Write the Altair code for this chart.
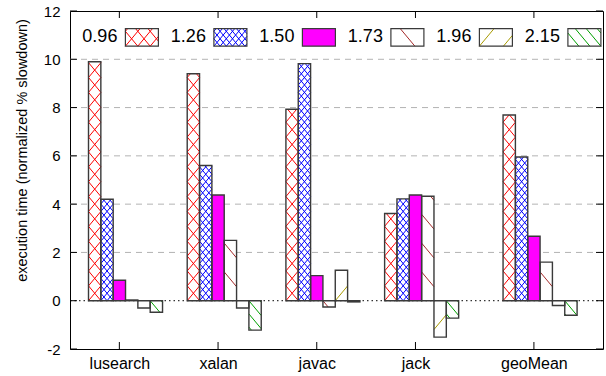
import altair as alt
import pandas as pd

# ---- data -------------------------------------------------------------
benchmarks = ["lusearch", "xalan", "javac", "jack", "geoMean"]
positions = [0, 1, 2, 3, 4.2]
series = ["0.96", "1.26", "1.50", "1.73", "1.96", "2.15"]

val_096 = [9.90, 9.40, 7.93, 3.61, 7.69]
val_126 = [4.20, 5.60, 9.82, 4.22, 5.95]
val_150 = [0.85, 4.38, 1.04, 4.38, 2.67]
val_173 = [0.03, 2.50, -0.26, 4.33, 1.60]
val_196 = [-0.30, -0.30, 1.26, -1.51, -0.20]
val_215 = [-0.48, -1.22, -0.05, -0.72, -0.60]
values = [val_096, val_126, val_150, val_173, val_196, val_215]

y_ticks = [-2, 0, 2, 4, 6, 8, 10, 12]
grid_lines = [2, 4, 6, 8, 10]

# ---- fill styles: colour, solid?, hatch families (direction, spacing px) ----
styles = {
    "0.96": ("#ff0000", False, [("\\", 12.4), ("/", 12.4)]),
    "1.26": ("#0000ff", False, [("\\", 6.2), ("/", 6.2)]),
    "1.50": ("#ff00ff", True, []),
    "1.73": ("#a52a2a", False, [("\\", 24.0)]),
    "1.96": ("#a89a00", False, [("/", 24.0)]),
    "2.15": ("#00a000", False, [("\\", 11.0)]),
}
SLOPE = 1.2

# ---- geometry ---------------------------------------------------------
W, H = 533, 338
XMIN, XMAX = -0.5, 4.9
YMIN, YMAX = -2, 12
PPX = W / (XMAX - XMIN)
PPY = H / (YMAX - YMIN)
BAR_W = 0.125
CLUSTER_START = -2.5 * BAR_W


def to_px(x, y):
    return (x - XMIN) * PPX, (YMAX - y) * PPY


def to_data(px, py):
    return XMIN + px / PPX, YMAX - py / PPY


def hatch(px0, px1, py0, py1, spacing, direction, xref, yref):
    sgn = 1 if direction == "\\" else -1
    segs = []
    for k in range(-120, 120):
        c = xref + k * spacing
        xa = c + (py0 - yref) / (sgn * SLOPE)
        xb = c + (py1 - yref) / (sgn * SLOPE)
        lo, hi = max(min(xa, xb), px0), min(max(xa, xb), px1)
        if hi - lo > 0.3:
            segs.append((lo, yref + sgn * SLOPE * (lo - c),
                         hi, yref + sgn * SLOPE * (hi - c)))
    return segs


bar_rows, hatch_rows = [], []
for si, name in enumerate(series):
    colour, solid, fams = styles[name]
    for ci, bench in enumerate(benchmarks):
        v = values[si][ci]
        x0 = positions[ci] + CLUSTER_START + si * BAR_W
        x1 = x0 + BAR_W
        bar_rows.append({"bench": bench, "series": name, "x0": x0, "x1": x1,
                         "y0": 0.0, "y1": v,
                         "fill": colour if solid else "#ffffff"})
        px0, pz = to_px(x0, 0)
        px1, pv = to_px(x1, v)
        for d, sp in fams:
            for a, b, c, e in hatch(px0, px1, min(pz, pv), max(pz, pv), sp, d, px0, pz):
                xa, ya = to_data(a, b)
                xb, yb = to_data(c, e)
                hatch_rows.append({"x": xa, "y": ya, "x2": xb, "y2": yb, "c": colour})

# legend: label followed by a sample box, laid out along the top
leg_box, leg_text = [], []
for i, name in enumerate(series):
    colour, solid, fams = styles[name]
    left = 55.4 + 88.5 * i
    right, top, bottom = left + 33, 17.7, 35.2
    xa, ya = to_data(left, top)
    xb, yb = to_data(right, bottom)
    leg_box.append({"x0": xa, "x1": xb, "y0": ya, "y1": yb,
                    "fill": colour if solid else "#ffffff"})
    tx, ty = to_data(left - 8, (top + bottom) / 2)
    leg_text.append({"x": tx, "y": ty, "label": name})
    for d, sp in fams:
        for a, b, c, e in hatch(left, right, top, bottom, sp, d, left, bottom):
            x1_, y1_ = to_data(a, b)
            x2_, y2_ = to_data(c, e)
            hatch_rows.append({"x": x1_, "y": y1_, "x2": x2_, "y2": y2_, "c": colour})

# axis tick marks drawn inward on all four sides
tick_rows = []
for t in y_ticks:
    tick_rows.append({"x": XMIN, "x2": XMIN + 7 / PPX, "y": t, "y2": t})
    tick_rows.append({"x": XMAX - 7 / PPX, "x2": XMAX, "y": t, "y2": t})
for p in positions:
    tick_rows.append({"x": p, "x2": p, "y": YMIN, "y2": YMIN + 7 / PPY})
    tick_rows.append({"x": p, "x2": p, "y": YMAX - 7 / PPY, "y2": YMAX})

grid_rows = [{"x": XMIN, "x2": XMAX, "y": g, "y2": g} for g in grid_lines]
zero_rows = [{"x": XMIN, "x2": XMAX, "y": 0, "y2": 0}]

# ---- encodings --------------------------------------------------------
FONT = "Liberation Sans"
xs = alt.Scale(domain=[XMIN, XMAX], nice=False, zero=False)
ys = alt.Scale(domain=[YMIN, YMAX], nice=False, zero=False)
label_js = "[" + ",".join(f"'{b}'" for b in benchmarks) + "][round(datum.value)]"
x_axis = alt.Axis(values=positions, labelExpr=label_js, tickSize=0, domain=False,
                  grid=False, title=None, labelFontSize=16, labelPadding=6,
                  labelFont=FONT, labelColor="black")
y_axis = alt.Axis(values=y_ticks, labelExpr="'' + datum.value",
                  tickSize=0, domain=False, grid=False,
                  title="execution time (normalized % slowdown)",
                  titleFont=FONT, titleFontSize=14.5, titleFontWeight="normal",
                  titleColor="black", titleAngle=270, titleAlign="center",
                  titleBaseline="middle", titleX=-48, titleY=139,
                  labelFontSize=15, labelPadding=10, labelFont=FONT,
                  labelColor="black")


def X(f):
    return alt.X(f, type="quantitative", scale=xs, axis=x_axis)


def Y(f):
    return alt.Y(f, type="quantitative", scale=ys, axis=y_axis)


grid = alt.Chart(pd.DataFrame(grid_rows)).mark_rule(
    color="#b3b3b3", strokeWidth=1, strokeDash=[6, 5]
).encode(x=X("x"), x2="x2", y=Y("y"), y2="y2")

zero = alt.Chart(pd.DataFrame(zero_rows)).mark_rule(
    color="black", strokeWidth=1, strokeDash=[1.5, 3]
).encode(x=X("x"), x2="x2", y=Y("y"), y2="y2")

bars = alt.Chart(pd.DataFrame(bar_rows)).mark_rect(strokeWidth=0).encode(
    x=X("x0"), x2="x1", y=Y("y0"), y2="y1",
    fill=alt.Fill("fill:N", scale=None),
)

hatches = alt.Chart(pd.DataFrame(hatch_rows)).mark_rule(strokeWidth=1).encode(
    x=X("x"), x2="x2", y=Y("y"), y2="y2",
    color=alt.Color("c:N", scale=None),
)

outlines = alt.Chart(pd.DataFrame(bar_rows)).mark_rect(
    fillOpacity=0, stroke="#3a3a3a", strokeWidth=1.4
).encode(x=X("x0"), x2="x1", y=Y("y0"), y2="y1")

legend_fill = alt.Chart(pd.DataFrame(leg_box)).mark_rect(strokeWidth=0).encode(
    x=X("x0"), x2="x1", y=Y("y0"), y2="y1",
    fill=alt.Fill("fill:N", scale=None),
)
legend_outline = alt.Chart(pd.DataFrame(leg_box)).mark_rect(
    fillOpacity=0, stroke="#3a3a3a", strokeWidth=1.2
).encode(x=X("x0"), x2="x1", y=Y("y0"), y2="y1")

legend_text = alt.Chart(pd.DataFrame(leg_text)).mark_text(
    align="right", baseline="middle", font=FONT, fontSize=18, color="black"
).encode(x=X("x"), y=Y("y"), text="label:N")

ticks = alt.Chart(pd.DataFrame(tick_rows)).mark_rule(
    color="black", strokeWidth=1
).encode(x=X("x"), x2="x2", y=Y("y"), y2="y2")

chart = alt.layer(
    grid, zero, legend_fill, bars, hatches, outlines, legend_outline,
    legend_text, ticks
).properties(
    width=W, height=H,
    autosize=alt.AutoSizeParams(type="none"),
    padding={"left": 70, "top": 11, "right": 3, "bottom": 27},
).configure_view(stroke="black", strokeWidth=1)

chart.save("out.html", embed_options={"renderer": "svg", "actions": False})
